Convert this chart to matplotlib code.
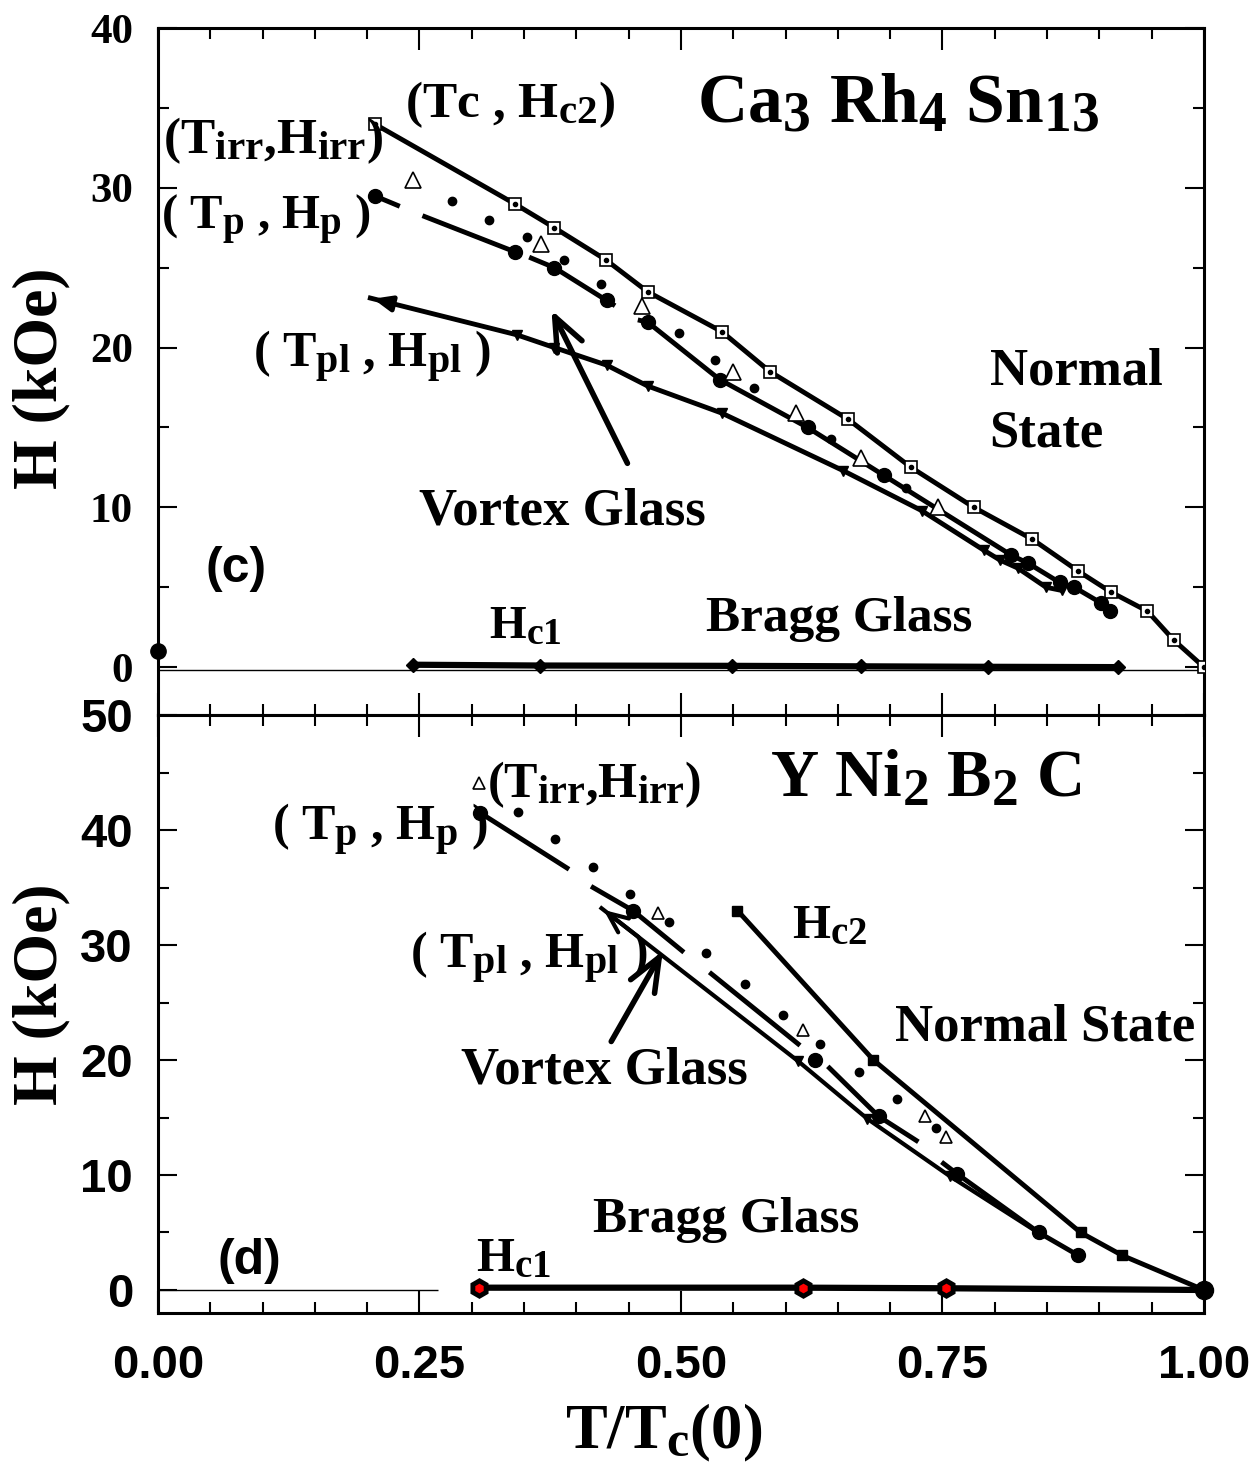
import numpy as np
import matplotlib
matplotlib.use("Agg")
import matplotlib.pyplot as plt
from matplotlib.ticker import MultipleLocator

plt.rcParams['mathtext.fontset'] = 'custom'
plt.rcParams['mathtext.rm'] = 'Liberation Serif:bold'
plt.rcParams['mathtext.it'] = 'Liberation Serif:bold'
plt.rcParams['mathtext.bf'] = 'Liberation Serif:bold'
plt.rcParams['mathtext.default'] = 'rm'
# the original uses rather large subscripts
try:
    import matplotlib._mathtext as _mt
    _mt.SHRINK_FACTOR = 0.8
except Exception:
    pass

nan = np.nan

# ---- Ca3Rh4Sn13 (panel c) ----
ca_hc2_t = [0.207, 0.341, 0.379, 0.428, 0.468, 0.539, 0.585, 0.660, 0.720, 0.780, 0.836, 0.880, 0.911, 0.946, 0.971, 1.0]
ca_hc2_h = [34.0, 29.0, 27.5, 25.5, 23.5, 21.0, 18.5, 15.5, 12.5, 10.0, 8.0, 6.0, 4.7, 3.5, 1.7, 0.0]

ca_hp_t = [0.207, 0.341, 0.379, 0.429, 0.468, 0.537, 0.621, 0.694, 0.816, 0.832, 0.862, 0.876, 0.902, 0.910]
ca_hp_h = [29.5, 26.0, 25.0, 23.0, 21.6, 18.0, 15.0, 12.0, 7.0, 6.5, 5.3, 5.0, 4.0, 3.5]
# broken connecting line of the peak-effect curve
ca_hp_line_t = [0.207, 0.229, nan, 0.255, 0.341, nan, 0.357, 0.379, 0.435, nan,
                0.461, 0.468, 0.537, 0.621, 0.694, 0.816, 0.832, 0.862, 0.876, 0.902, 0.910]
ca_hp_line_h = [29.5, 28.9, nan, 28.2, 26.0, nan, 25.6, 25.0, 22.7, nan,
                21.7, 21.6, 18.0, 15.0, 12.0, 7.0, 6.5, 5.3, 5.0, 4.0, 3.5]

ca_dot_t = [0.281, 0.316, 0.353, 0.388, 0.424, 0.498, 0.533, 0.570, 0.643, 0.715]
ca_dot_h = [29.2, 28.0, 26.9, 25.5, 24.0, 20.9, 19.2, 17.5, 14.3, 11.2]

ca_irr_t = [0.244, 0.366, 0.463, 0.550, 0.610, 0.672, 0.746]
ca_irr_h = [30.5, 26.5, 22.6, 18.5, 15.9, 13.1, 10.0]

ca_pl_t = [0.203, 0.343, 0.379, 0.429, 0.468, 0.539, 0.655, 0.730, 0.790, 0.805, 0.822, 0.849, 0.864]
ca_pl_h = [23.1, 20.8, 20.0, 18.9, 17.6, 15.9, 12.3, 9.8, 7.3, 6.7, 6.2, 5.0, 4.8]

ca_hc1_t = [0.244, 0.365, 0.549, 0.672, 0.794, 0.918]
ca_hc1_h = [0.15, 0.10, 0.08, 0.05, 0.02, 0.0]

# ---- YNi2B2C (panel d) ----
y_hc2_t = [0.554, 0.684, 0.882, 0.922, 1.0]
y_hc2_h = [33.0, 20.0, 5.0, 3.0, 0.0]

y_hp_t = [0.308, 0.454, 0.628, 0.689, 0.764, 0.842, 0.880]
y_hp_h = [41.5, 33.0, 20.0, 15.1, 10.1, 5.0, 3.0]
y_hp_line_t = [0.308, 0.391, nan, 0.416, 0.454, 0.501, nan, 0.529, 0.612, nan,
               0.642, 0.689, 0.725, nan, 0.751, 0.764, 0.842, 0.880]
y_hp_line_h = [41.5, 36.7, nan, 35.0, 33.0, 29.5, nan, 27.5, 21.4, nan,
               19.3, 15.1, 13.0, nan, 11.0, 10.1, 5.0, 3.0]

y_dot_t = [0.344, 0.380, 0.416, 0.451, 0.489, 0.524, 0.561, 0.598, 0.633, 0.670, 0.707, 0.744]
y_dot_h = [41.6, 39.2, 36.8, 34.4, 32.0, 29.3, 26.6, 23.9, 21.4, 19.0, 16.6, 14.1]

y_irr_t = [0.307, 0.478, 0.617, 0.733, 0.753]
y_irr_h = [44.1, 32.8, 22.6, 15.1, 13.3]

y_pl_t = [0.424, 0.612, 0.678, 0.757, 0.843]
y_pl_h = [33.2, 19.9, 14.9, 9.9, 4.9]

y_hc1_t = [0.307, 0.617, 0.753, 1.0]
y_hc1_h = [0.2, 0.2, 0.15, 0.0]

serif = 'Liberation Serif'
sans = 'Liberation Sans'
LW = 3.5

fig = plt.figure(figsize=(12.57, 14.68), dpi=100)
ax1 = fig.add_axes([0.1257, 0.5129, 0.8321, 0.4680])
ax2 = fig.add_axes([0.1257, 0.1056, 0.8321, 0.4073])


def style_axes(ax, ymin, ymax):
    ax.set_xlim(0, 1.0)
    ax.set_ylim(ymin, ymax)
    ax.xaxis.set_major_locator(MultipleLocator(0.25))
    ax.xaxis.set_minor_locator(MultipleLocator(0.05))
    ax.yaxis.set_major_locator(MultipleLocator(10))
    ax.yaxis.set_minor_locator(MultipleLocator(5))
    ax.tick_params(which='both', direction='in', top=True, right=True, width=1.5)
    ax.tick_params(which='major', length=14)
    ax.tick_params(which='minor', length=8)
    ax.tick_params(axis='x', which='major', length=16)
    for s in ax.spines.values():
        s.set_linewidth(2.2)
    ax.tick_params(axis='y', pad=18)


# ---------------- panel (c) ----------------
style_axes(ax1, -3, 40)
ax1.set_yticks([0, 10, 20, 30, 40])
ax1.set_yticklabels(['0', '10', '20', '30', '40'], fontfamily=serif, fontweight='bold', fontsize=31)
ax1.tick_params(axis='x', labelbottom=False)

ax1.axhline(-0.2, color='black', lw=1)
ax1.plot(ca_hc2_t, ca_hc2_h, color='black', lw=LW, marker='s', ms=8,
         mfc='white', mec='black', mew=1.2, zorder=3)
ax1.plot(ca_hc2_t, ca_hc2_h, ls='none', marker='o', ms=3, color='black', zorder=4)
ax1.plot(ca_hp_line_t, ca_hp_line_h, color='black', lw=LW, zorder=3)
ax1.plot(ca_hp_t, ca_hp_h, ls='none', marker='o', ms=10, color='black', zorder=4)
ax1.plot(ca_dot_t, ca_dot_h, ls='none', marker='o', ms=6, color='black', zorder=4)
ax1.plot(ca_irr_t, ca_irr_h, ls='none', marker='^', ms=11, mfc='white',
         mec='black', mew=1.2, zorder=5)
ax1.plot(ca_pl_t, ca_pl_h, color='black', lw=LW, zorder=3)
ax1.plot(ca_pl_t[1:], ca_pl_h[1:], ls='none', marker='v', ms=7, color='black', zorder=4)
ax1.annotate('', xy=(ca_pl_t[0], ca_pl_h[0]),
             xytext=(0.85 * ca_pl_t[0] + 0.15 * ca_pl_t[1], 0.85 * ca_pl_h[0] + 0.15 * ca_pl_h[1]),
             arrowprops=dict(arrowstyle='-|>,head_length=0.6,head_width=0.25',
                             color='black', lw=LW, mutation_scale=18), zorder=5)
ax1.plot(ca_hc1_t, ca_hc1_h, color='black', lw=4.5, marker='D', ms=7, zorder=3)
ax1.plot([0.0], [1.0], marker='o', ms=11, color='black', clip_on=False, zorder=6)

ax1.annotate('', xy=(0.375, 22.5), xytext=(0.45, 12.6),
             arrowprops=dict(arrowstyle='->,head_length=1.1,head_width=0.45',
                             color='black', lw=4, mutation_scale=22))

tkw = dict(fontfamily=serif, fontweight='bold', va='baseline', ha='left')
ax1.text(0.236, 34.4, '(Tc , H$_{c2}$)', fontsize=37, **tkw)
ax1.text(0.515, 34.1, 'Ca$_3$ Rh$_4$ Sn$_{13}$', fontsize=50, **tkw)
ax1.text(0.005, 32.2, '(T$_{irr}$,H$_{irr}$)', fontsize=37, **tkw)
ax1.text(0.003, 27.4, '( T$_p$ , H$_p$ )', fontsize=35, **tkw)
ax1.text(0.091, 18.8, '( T$_{pl}$ , H$_{pl}$ )', fontsize=36, **tkw)
ax1.text(0.250, 8.9, 'Vortex Glass', fontsize=38, **tkw)
ax1.text(0.795, 17.7, 'Normal', fontsize=38, **tkw)
ax1.text(0.795, 13.8, 'State', fontsize=38, **tkw)
ax1.text(0.316, 1.8, 'H$_{c1}$', fontsize=34, **tkw)
ax1.text(0.524, 2.25, 'Bragg Glass', fontsize=37, **tkw)
ax1.text(0.045, 5.3, '(c)', fontsize=36, fontfamily=sans, fontweight='bold',
         va='baseline', ha='left')

# ---------------- panel (d) ----------------
style_axes(ax2, -2, 50)
ax2.set_yticks([0, 10, 20, 30, 40, 50])
ax2.set_yticklabels(['0', '10', '20', '30', '40', '50'], fontfamily=sans, fontweight='bold', fontsize=34)
ax2.set_xticks([0, 0.25, 0.5, 0.75, 1.0])
ax2.set_xticklabels(['0.00', '0.25', '0.50', '0.75', '1.00'], fontfamily=sans,
                    fontweight='bold', fontsize=34)
ax2.tick_params(axis='x', pad=22)

ax2.hlines(0, 0, 0.268, color='black', lw=1)
ax2.plot(y_hc2_t, y_hc2_h, color='black', lw=LW, marker='s', ms=7,
         markevery=slice(0, -1), zorder=3)
ax2.plot(y_hp_line_t, y_hp_line_h, color='black', lw=LW, zorder=3)
ax2.plot(y_hp_t, y_hp_h, ls='none', marker='o', ms=10, color='black', zorder=4)
ax2.plot(y_dot_t, y_dot_h, ls='none', marker='o', ms=6, color='black', zorder=4)
ax2.plot(y_irr_t, y_irr_h, ls='none', marker='^', ms=9, mfc='white',
         mec='black', mew=1.2, zorder=5)
ax2.plot(y_pl_t, y_pl_h, color='black', lw=3, zorder=3)
ax2.plot(y_pl_t[1:], y_pl_h[1:], ls='none', marker='v', ms=7, color='black', zorder=4)
ax2.annotate('', xy=(y_pl_t[0], y_pl_h[0]),
             xytext=(0.8 * y_pl_t[0] + 0.2 * y_pl_t[1], 0.8 * y_pl_h[0] + 0.2 * y_pl_h[1]),
             arrowprops=dict(arrowstyle='->,head_length=0.8,head_width=0.35',
                             color='black', lw=3, mutation_scale=18), zorder=5)
ax2.plot(y_hc1_t, y_hc1_h, color='black', lw=4.5, zorder=3)
ax2.plot(y_hc1_t[:-1], y_hc1_h[:-1], ls='none', marker='h', ms=11, mfc='red',
         mec='black', mew=3.5, zorder=4)
ax2.plot(y_hc1_t[-1:], y_hc1_h[-1:], ls='none', marker='o', ms=13, color='black',
         clip_on=False, zorder=6)

ax2.annotate('', xy=(0.484, 29.7), xytext=(0.432, 21.4),
             arrowprops=dict(arrowstyle='->,head_length=1.1,head_width=0.45',
                             color='black', lw=4, mutation_scale=22))

ax2.text(0.585, 42.9, 'Y Ni$_2$ B$_2$ C', fontsize=48, **tkw)
ax2.text(0.315, 42.9, '(T$_{irr}$,H$_{irr}$)', fontsize=36, **tkw)
ax2.text(0.109, 39.1, '( T$_p$ , H$_p$ )', fontsize=36, **tkw)
ax2.text(0.241, 28.0, '( T$_{pl}$ , H$_{pl}$ )', fontsize=36, **tkw)
ax2.text(0.606, 30.6, 'H$_{c2}$', fontsize=35, **tkw)
ax2.text(0.705, 21.7, 'Normal State', fontsize=38, **tkw)
ax2.text(0.290, 18.0, 'Vortex Glass', fontsize=38, **tkw)
ax2.text(0.416, 5.0, 'Bragg Glass', fontsize=37, **tkw)
ax2.text(0.304, 1.65, 'H$_{c1}$', fontsize=35, **tkw)
ax2.text(0.057, 1.4, '(d)', fontsize=36, fontfamily=sans, fontweight='bold',
         va='baseline', ha='left')

# axis labels
fig.text(0.033, 0.7425, 'H (kOe)', rotation=90, fontsize=46, fontfamily=serif,
         fontweight='bold', ha='center', va='center')
fig.text(0.033, 0.3229, 'H (kOe)', rotation=90, fontsize=46, fontfamily=serif,
         fontweight='bold', ha='center', va='center')
fig.text(0.528, 0.0136, 'T/T$_c$(0)', fontsize=45, fontfamily=serif,
         fontweight='bold', ha='center', va='baseline')

fig.savefig('out.png', dpi=100)
